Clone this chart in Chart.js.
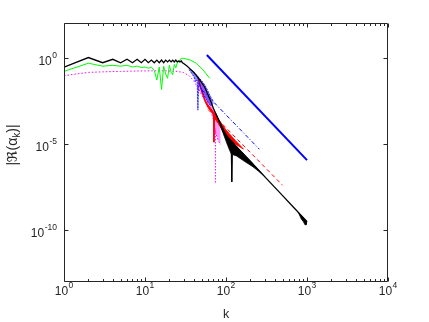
<!DOCTYPE html>
<html><head><meta charset="utf-8">
<script src="https://cdn.jsdelivr.net/npm/chart.js@4"></script>
<style>html,body{margin:0;padding:0;background:#fff;overflow:hidden}#wrap{width:429px;height:322px;position:relative}</style>
</head><body><div id="wrap"><canvas id="c" width="429" height="322"></canvas></div>
<script>
// axis ticks
const xTicks = [1, 10, 100, 1000, 10000];
const xTickExp = ['0', '1', '2', '3', '4'];
const yTicks = [1, 1e-5, 1e-10];
const yTickExp = ['0', '-5', '-10'];

// black series (main curve)
const kBlack = [1,2,3,4,5,6,7,8,9,10,11,12,13,14,15,16,17,18,19,20,21,22,23,24,25,26,27,28,29,30,33,36,40,45,50,55,60,65,70,75,80,85,90,95,100,150,200,300,500,700,1000];
const vBlack = [0.28,1.0,0.5,0.79,0.5,0.79,0.5,0.79,0.5,0.79,0.5,0.71,0.5,0.71,0.5,0.71,0.5,0.71,0.56,0.71,0.56,0.71,0.56,0.71,0.56,0.63,0.56,0.63,0.5,0.45,0.32,0.22,0.14,0.071,0.0355,0.0178,0.00708,0.00282,0.00112,5.62e-4,2.82e-4,1.58e-4,8.91e-5,5.25e-5,3.16e-5,3.98e-6,1.0e-6,1.26e-7,1.0e-8,1.86e-9,3.16e-10];
// black oscillation band
const kFan = [75,85,95,105,112,116,118,120,135,165,215,250,300];
const fanHi = [5.62e-4,1.58e-4,5.25e-5,2.51e-5,1.78e-5,1.51e-5,1.38e-5,1.26e-5,7.08e-6,2.57e-6,6.92e-7,3.24e-7,1.29e-7];
const fanLo = [5.62e-4,1.2e-4,2.8e-5,8e-6,3.8e-6,2.6e-6,6.31e-8,2.4e-6,2.0e-6,1.05e-6,4.7e-7,2.7e-7,1.29e-7];
const kEnd = [780,850,900,950,1000];
const endHi = [1.1e-9,7.08e-10,5.37e-10,4.07e-10,3.16e-10];
const endLo = [1.1e-9,4.47e-10,3.16e-10,2.0e-10,2.24e-10];

// blue
const kBlueFit = [50, 258];
const blueFit = [1.38e-2, 4.9e-6];
const kSlope = [58, 1000];
const slopeRef = [1.41, 1.15e-6];
const kBlue = [35,40,42,44,45,46,50,55,60,65,70];
const blueHi = [0.251,0.141,0.112,0.0891,0.0794,0.0708,0.0447,0.0251,0.0112,0.00501,0.00282];
const blueLo = [0.2,0.0794,0.0398,0.0501,8.91e-4,0.0316,0.0126,0.00501,0.00251,0.00158,0.00224];

// red
const kRedFit = [60, 500];
const redFit = [9.8e-4, 3.98e-8];
const kRed = [45,50,55,60,65,70,71,72,80,100,130,164];
const redHi = [0.0708,0.0126,0.00355,0.00178,0.00112,7.08e-4,6.61e-4,6.03e-4,2.82e-4,6.31e-5,1.58e-5,5.01e-6];
const redLo = [0.0708,0.0112,0.00282,0.00126,7.94e-4,5.01e-4,1.26e-5,3.16e-4,1.58e-4,2.51e-5,1e-5,5.01e-6];

// magenta
const kMag = [1,2,3,5,8,12,18,25,30,35,40,45,50,55,60,65,70,75,80,86];
const vMag = [0.0891,0.138,0.148,0.158,0.166,0.17,0.17,0.158,0.135,0.0891,0.0447,0.0178,0.00708,0.00316,0.00158,7.94e-4,2.51e-4,3.98e-5,1.58e-5,8.91e-6];
const kMagDrop = [74, 74];
const magDrop = [6.31e-5, 5.01e-8];
const kMagFan = [45,50,55,60,65,70,75,80,86];
const magFanHi = [0.0631,0.0316,0.0158,0.00631,0.00251,0.001,5.01e-4,2.51e-4,5.01e-5];
const magFanLo = [0.0178,0.00708,0.00316,0.00158,7.94e-4,2.51e-4,3.98e-5,1.58e-5,8.91e-6];

// green
const kGreen = [1,2,3,4,5,6,7,8,9,10,11,12,13,14,15,16,17,18,19,20,21,22,23,24,25,26,27,28,30,32,36,43,52,63];
const vGreen = [0.158,0.468,0.316,0.355,0.316,0.355,0.282,0.316,0.263,0.282,0.24,0.282,0.178,0.0501,0.282,0.0141,0.316,0.112,0.0631,0.355,0.141,0.1,0.398,0.251,0.501,0.562,0.759,0.891,0.891,0.832,0.724,0.468,0.191,0.0631];

const pts = (ks, vs) => ks.map((k, i) => ({x: k, y: vs[i]}));
const base = {pointRadius: 0, borderWidth: 1, fill: false, tension: 0};

const datasets = [
  /*0*/ {...base, data: pts(kBlack, vBlack), borderColor: '#000', borderWidth: 1.3, order: 0},
  /*1*/ {...base, data: pts(kFan, fanHi), borderColor: '#000', borderWidth: 0.8, fill: 2, backgroundColor: '#000', order: 1},
  /*2*/ {...base, data: pts(kFan, fanLo), borderColor: '#000', borderWidth: 0.8, order: 1},
  /*3*/ {...base, data: pts(kEnd, endHi), borderColor: '#000', borderWidth: 0.8, fill: 4, backgroundColor: '#000', order: 1},
  /*4*/ {...base, data: pts(kEnd, endLo), borderColor: '#000', borderWidth: 0.8, order: 1},
  /*5*/ {...base, data: pts(kBlueFit, blueFit), borderColor: '#0000ff', borderDash: [4, 2, 1, 2], order: 2},
  /*6*/ {...base, data: pts(kSlope, slopeRef), borderColor: '#0000ff', borderWidth: 2, order: 2},
  /*7*/ {...base, data: pts(kBlue, blueHi), borderColor: 'rgba(0,0,255,0.8)', borderDash: [2, 1], fill: 8, backgroundColor: 'rgba(0,0,255,0.45)', order: 3},
  /*8*/ {...base, data: pts(kBlue, blueLo), borderColor: 'rgba(0,0,255,0.8)', borderDash: [2, 1], order: 3},
  /*9*/ {...base, data: pts(kRedFit, redFit), borderColor: '#ff0000', borderDash: [4, 3], order: 4},
  /*10*/ {...base, data: pts(kRed, redHi), borderColor: '#ff0000', fill: 11, backgroundColor: '#ff0000', order: 5},
  /*11*/ {...base, data: pts(kRed, redLo), borderColor: '#ff0000', order: 5},
  /*12*/ {...base, data: pts(kMag, vMag), borderColor: '#ff00ff', borderDash: [1.5, 2], order: 6},
  /*13*/ {...base, data: pts(kMagDrop, magDrop), borderColor: '#ff00ff', borderDash: [1.5, 1.5], order: 6},
  /*14*/ {...base, data: pts(kMagFan, magFanHi), borderColor: 'rgba(255,0,255,0)', borderWidth: 0, fill: 15, backgroundColor: 'rgba(255,0,255,0.4)', order: 7},
  /*15*/ {...base, data: pts(kMagFan, magFanLo), borderColor: 'rgba(255,0,255,0)', borderWidth: 0, order: 7},
  /*16*/ {...base, data: pts(kGreen, vGreen), borderColor: '#00ff00', order: 1.5},
];

function drawPow(ctx, exp, x, y, align, baseSize, expSize, raise) {
  ctx.font = baseSize + 'px "Liberation Sans", Arial, sans-serif';
  const wb = ctx.measureText('10').width;
  ctx.font = expSize + 'px "Liberation Sans", Arial, sans-serif';
  const we = ctx.measureText(exp).width;
  const tot = wb + we + 0.5;
  let sx = align === 'center' ? x - tot / 2 : x - tot;
  ctx.textAlign = 'left';
  ctx.textBaseline = 'alphabetic';
  ctx.font = baseSize + 'px "Liberation Sans", Arial, sans-serif';
  ctx.fillText('10', sx, y);
  ctx.font = expSize + 'px "Liberation Sans", Arial, sans-serif';
  ctx.fillText(exp, sx + wb + 0.5, y - raise);
}

const decor = {
  id: 'decor',
  afterDraw(chart) {
    const {ctx, chartArea: a, scales: {x, y}} = chart;
    ctx.save();
    const col = '#262626';
    ctx.strokeStyle = col; ctx.fillStyle = col; ctx.lineWidth = 1;
    const L = Math.round(a.left) + 0.5, R = Math.round(a.right) - 0.5;
    const T = Math.round(a.top) + 0.5, B = Math.round(a.bottom) - 0.5;
    ctx.beginPath();
    ctx.rect(L, T, R - L, B - T);
    for (let d = 0; d < xTicks.length; d++) {
      for (let m = 1; m < 10; m++) {
        if (d === xTicks.length - 1 && m > 1) break;
        const px = Math.round(x.getPixelForValue(xTicks[d] * m)) + 0.5;
        const len = m === 1 ? 4 : 2.5;
        ctx.moveTo(px, B); ctx.lineTo(px, B - len);
        ctx.moveTo(px, T); ctx.lineTo(px, T + len);
      }
    }
    for (const v of yTicks) {
      const py = Math.round(y.getPixelForValue(v)) + 0.5;
      ctx.moveTo(L, py); ctx.lineTo(L + 4, py);
      ctx.moveTo(R, py); ctx.lineTo(R - 4, py);
    }
    ctx.stroke();
    xTicks.forEach((v, i) => {
      const px = x.getPixelForValue(v);
      drawPow(ctx, xTickExp[i], px, a.bottom + 13, 'center', 12, 8.5, 7);
    });
    yTicks.forEach((v, i) => {
      const py = y.getPixelForValue(v);
      drawPow(ctx, yTickExp[i], a.left - 7, py + 7, 'right', 12, 8.5, 7);
    });
    ctx.font = '12.5px "Liberation Sans", Arial, sans-serif';
    ctx.textAlign = 'center'; ctx.textBaseline = 'alphabetic';
    ctx.fillText('k', (a.left + a.right) / 2, 318);
    ctx.save();
    ctx.translate(12, 145);
    ctx.rotate(-Math.PI / 2);
    const fN = '14px "Liberation Sans", "DejaVu Sans", sans-serif';
    const fS = '10px "Liberation Sans", "DejaVu Sans", sans-serif';
    const parts = [['|\u211C(\u03B1', fN, 0], ['k', fS, 3], [')|', fN, 0]];
    let tot = 0;
    parts.forEach(p => { ctx.font = p[1]; tot += ctx.measureText(p[0]).width; });
    let sx = -tot / 2;
    ctx.textAlign = 'left';
    parts.forEach(p => { ctx.font = p[1]; ctx.fillText(p[0], sx, 4.5 + p[2]); sx += ctx.measureText(p[0]).width; });
    ctx.restore();
    ctx.restore();
  }
};

new Chart(document.getElementById('c'), {
  type: 'line',
  data: {datasets},
  options: {
    responsive: false,
    animation: false,
    devicePixelRatio: 1,
    layout: {padding: {left: 64, right: 41, top: 23, bottom: 40}},
    plugins: {legend: {display: false}, tooltip: {enabled: false}},
    scales: {
      x: {type: 'logarithmic', min: 1, max: 10000, display: false},
      y: {type: 'logarithmic', min: 1e-13, max: 100, display: false}
    }
  },
  plugins: [decor]
});
</script></body></html>
